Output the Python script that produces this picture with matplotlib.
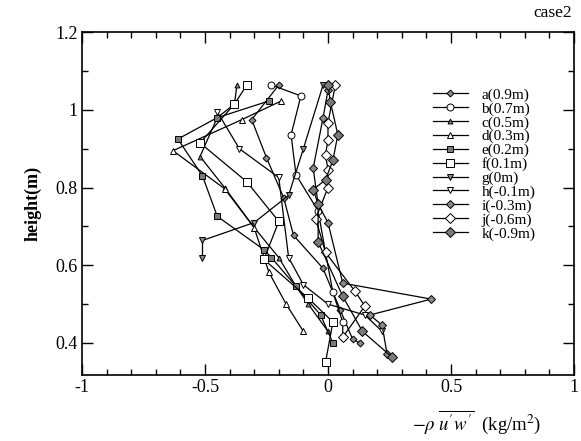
import numpy as np
import matplotlib
matplotlib.use("Agg")
import matplotlib.pyplot as plt
from matplotlib.ticker import MultipleLocator

plt.rcParams['font.family'] = 'Liberation Serif'
plt.rcParams['mathtext.fontset'] = 'stix'

# profiles: stress (x) vs height (y) for each station
labels = ['a(0.9m)', 'b(0.7m)', 'c(0.5m)', 'd(0.3m)', 'e(0.2m)', 'f(0.1m)',
          'g(0m)', 'h(-0.1m)', 'i(-0.3m)', 'j(-0.6m)', 'k(-0.9m)']

a_x = [-0.20, -0.31, -0.25, -0.18, -0.14, -0.02, 0.05, 0.10, 0.13]
a_y = [1.064, 0.975, 0.877, 0.774, 0.677, 0.592, 0.485, 0.41, 0.40]
b_x = [-0.23, -0.11, -0.15, -0.13, -0.04, -0.01, 0.02, 0.06, 0.06]
b_y = [1.064, 1.036, 0.936, 0.833, 0.74, 0.633, 0.53, 0.454, 0.415]
c_x = [-0.37, -0.38, -0.45, -0.52, -0.42, -0.30, -0.20, -0.13, -0.08, 0.00]
c_y = [1.064, 1.015, 0.98, 0.88, 0.80, 0.697, 0.62, 0.546, 0.50, 0.43]
d_x = [-0.19, -0.35, -0.63, -0.42, -0.30, -0.24, -0.17, -0.10]
d_y = [1.023, 0.975, 0.895, 0.797, 0.697, 0.582, 0.50, 0.43]
e_x = [-0.24, -0.45, -0.61, -0.51, -0.45, -0.26, -0.23, -0.13, -0.03, 0.02]
e_y = [1.023, 0.98, 0.925, 0.83, 0.726, 0.64, 0.62, 0.546, 0.472, 0.40]
f_x = [-0.33, -0.38, -0.52, -0.33, -0.20, -0.26, -0.08, 0.02, -0.01]
f_y = [1.064, 1.015, 0.915, 0.815, 0.713, 0.615, 0.515, 0.454, 0.35]
g_x = [-0.02, -0.10, -0.16, -0.30, -0.51, -0.51]
g_y = [1.064, 0.90, 0.78, 0.71, 0.664, 0.62]
h_x = [-0.45, -0.36, -0.20, -0.16, -0.10, 0.00, 0.15, 0.22]
h_y = [0.995, 0.90, 0.826, 0.62, 0.55, 0.50, 0.472, 0.43]
i_x = [0.00, -0.02, -0.06, -0.04, 0.00, 0.06, 0.42, 0.17, 0.22, 0.24]
i_y = [1.05, 0.98, 0.85, 0.757, 0.71, 0.554, 0.513, 0.472, 0.446, 0.372]
j_x = [0.03, 0.00, 0.00, -0.01, 0.00, 0.00, -0.05, -0.01, 0.11, 0.15, 0.06]
j_y = [1.064, 0.967, 0.923, 0.885, 0.846, 0.80, 0.72, 0.633, 0.533, 0.495, 0.415]
k_x = [0.00, 0.01, 0.04, 0.02, -0.01, -0.06, -0.04, -0.04, 0.06, 0.14, 0.26]
k_y = [1.064, 1.02, 0.936, 0.87, 0.82, 0.795, 0.757, 0.66, 0.52, 0.43, 0.364]

xs = [a_x, b_x, c_x, d_x, e_x, f_x, g_x, h_x, i_x, j_x, k_x]
ys = [a_y, b_y, c_y, d_y, e_y, f_y, g_y, h_y, i_y, j_y, k_y]

# marker shape, face colour, size
styles = [('D', '#8a8a8a', 3.5), ('o', 'white', 5), ('^', '#8a8a8a', 3.5),
          ('^', 'white', 5), ('s', '#7a7a7a', 5), ('s', 'white', 5.5),
          ('v', '#8a8a8a', 4), ('v', 'white', 5), ('D', '#8a8a8a', 4.5),
          ('D', 'white', 5), ('D', '#7a7a7a', 5.5)]

fig = plt.figure(figsize=(5.81, 4.41), dpi=100)
ax = fig.add_axes([0.141, 0.150, 0.847, 0.777])

for x, y, lab, (m, fc, ms) in zip(xs, ys, labels, styles):
    ax.plot(x, y, color='black', lw=0.9, marker=m, markersize=ms,
            markerfacecolor=fc, markeredgecolor='black', markeredgewidth=0.7,
            label=lab)

ax.set_xlim(-1, 1)
ax.set_ylim(0.318, 1.2)
ax.set_xticks([-1, -0.5, 0, 0.5, 1])
ax.set_xticklabels(['-1', '-0.5', '0', '0.5', '1'])
ax.set_yticks([0.4, 0.6, 0.8, 1.0, 1.2])
ax.set_yticklabels(['0.4', '0.6', '0.8', '1', '1.2'])
ax.xaxis.set_minor_locator(MultipleLocator(0.1))
ax.yaxis.set_minor_locator(MultipleLocator(0.1))
ax.tick_params(which='both', direction='in', top=True, right=True,
               labelsize=13, width=1)
ax.tick_params(which='major', length=8, pad=3)
ax.tick_params(which='minor', length=4)
for s in ax.spines.values():
    s.set_linewidth(1.2)

ax.set_ylabel('height(m)', fontsize=13, fontweight='bold', labelpad=10)
fig.text(0.82, 0.04, r"$-\rho\;\overline{u^{\prime}w^{\prime}}$  (kg/m$^2$)",
         fontsize=13.5, ha='center', va='center')
fig.text(0.985, 0.97, 'case2', fontsize=12.5, ha='right', va='center')

ax.legend(loc='upper left', bbox_to_anchor=(0.70, 0.855), frameon=False,
          fontsize=11, handlelength=2.3, numpoints=1, labelspacing=0.0,
          handletextpad=0.9, borderaxespad=0)

fig.savefig('out.png', dpi=100)
